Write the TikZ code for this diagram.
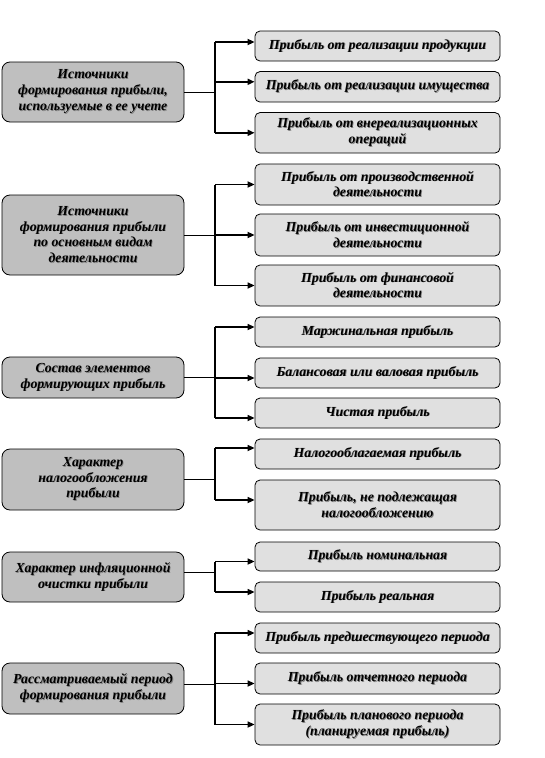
\documentclass[tikz,border=0pt]{standalone}
\usepackage{fontspec}
\setmainfont{Liberation Serif}
\usetikzlibrary{arrows.meta}
\newcommand\sh[1]{\rlap{\hspace{0.8pt}\raisebox{-0.8pt}{\textcolor{black!50}{#1}}}#1}
\tikzset{
  every node/.style={font=\fontsize{13.8}{15.8}\selectfont\bfseries\itshape, align=center, inner sep=0pt},
  leftbox/.style={draw, line width=0.8pt, rounded corners=8pt, fill=black!25, minimum width=182pt},
  rightbox/.style={draw, line width=0.8pt, rounded corners=5pt, fill=black!12, minimum width=245pt},
  feed/.style={line width=0.9pt},
  bus/.style={line width=1.2pt},
  arr/.style={line width=1.6pt, -{Triangle[length=7pt,width=6pt]}},
}
\begin{document}
\begin{tikzpicture}[x=1pt,y=-1pt]
\useasboundingbox (0,0) rectangle (545,758);
\coordinate (bx) at (215,0);

% left boxes
\node[leftbox, minimum height=60pt] (L1) at (93,92) {\sh{Источники}\\\sh{формирования прибыли,}\\\sh{используемые в ее учете}};
\node[leftbox, minimum height=80pt] (L2) at (93,235) {\sh{Источники}\\\sh{формирования прибыли}\\\sh{по основным видам}\\\sh{деятельности}};
\node[leftbox, minimum height=41pt] (L3) at (93,377.5) {\sh{Состав элементов}\\\sh{формирующих прибыль}};
\node[leftbox, minimum height=61pt] (L4) at (93,479.5) {\sh{Характер}\\\sh{налогообложения}\\\sh{прибыли}};
\node[leftbox, minimum height=50pt] (L5) at (93,577) {\sh{Характер инфляционной}\\\sh{очистки прибыли}};
\node[leftbox, minimum height=51pt] (L6) at (93,688.5) {\sh{Рассматриваемый период}\\\sh{формирования прибыли}};

% right boxes
\node[rightbox, minimum height=30pt] (a) at (377.5,46) {\sh{Прибыль от реализации продукции}};
\node[rightbox, minimum height=30.5pt] (b) at (377.5,86.8) {\sh{Прибыль от реализации имущества}};
\node[rightbox, minimum height=40.5pt] (c) at (377.5,132.8) {\sh{Прибыль от внереализационных}\\\sh{операций}};
\node[rightbox, minimum height=41pt] (d) at (377.5,184.5) {\sh{Прибыль от производственной}\\\sh{деятельности}};
\node[rightbox, minimum height=42pt] (e) at (377.5,235) {\sh{Прибыль от инвестиционной}\\\sh{деятельности}};
\node[rightbox, minimum height=41pt] (f) at (377.5,285.5) {\sh{Прибыль от финансовой}\\\sh{деятельности}};
\node[rightbox, minimum height=30pt] (g) at (377.5,332) {\sh{Маржинальная прибыль}};
\node[rightbox, minimum height=30pt] (h) at (377.5,373) {\sh{Балансовая или валовая прибыль}};
\node[rightbox, minimum height=30pt] (i) at (377.5,413) {\sh{Чистая прибыль}};
\node[rightbox, minimum height=30pt] (j) at (377.5,454) {\sh{Налогооблагаемая прибыль}};
\node[rightbox, minimum height=50pt] (k) at (377.5,505) {\sh{Прибыль, не подлежащая}\\\sh{налогообложению}};
\node[rightbox, minimum height=29pt] (l) at (377.5,556.5) {\sh{Прибыль номинальная}};
\node[rightbox, minimum height=30pt] (m) at (377.5,597) {\sh{Прибыль реальная}};
\node[rightbox, minimum height=30pt] (n) at (377.5,638) {\sh{Прибыль предшествующего периода}};
\node[rightbox, minimum height=31pt] (o) at (377.5,678.5) {\sh{Прибыль отчетного периода}};
\node[rightbox, minimum height=41pt] (p) at (377.5,724.5) {\sh{Прибыль планового периода}\\\sh{(планируемая прибыль)}};

% group 1
\draw[feed] (L1.east) -- (L1.east -| bx);
\draw[bus] ([yshift=4pt]a.west -| bx) -- (c.west -| bx);
\draw[arr] ([yshift=4pt]a.west -| bx) -- ([yshift=4pt]a.west);
\draw[arr] ([yshift=5pt]b.west -| bx) -- ([yshift=5pt]b.west);
\draw[arr] (c.west -| bx) -- (c.west);

% group 2
\draw[feed] (L2.east) -- (L2.east -| bx);
\draw[bus] (d.west -| bx) -- (f.west -| bx);
\draw[arr] (d.west -| bx) -- (d.west);
\draw[arr] (e.west -| bx) -- (e.west);
\draw[arr] (f.west -| bx) -- (f.west);

% group 3
\draw[feed] (L3.east) -- (L3.east -| bx);
\draw[bus] ([yshift=5pt]g.west -| bx) -- ([yshift=-5pt]i.west -| bx);
\draw[arr] ([yshift=5pt]g.west -| bx) -- ([yshift=5pt]g.west);
\draw[arr] ([yshift=-5pt]h.west -| bx) -- ([yshift=-5pt]h.west);
\draw[arr] ([yshift=-5pt]i.west -| bx) -- ([yshift=-5pt]i.west);

% group 4
\draw[feed] (L4.east) -- (L4.east -| bx);
\draw[bus] ([yshift=6pt]j.west -| bx) -- ([yshift=5pt]k.west -| bx);
\draw[arr] ([yshift=6pt]j.west -| bx) -- ([yshift=6pt]j.west);
\draw[arr] ([yshift=5pt]k.west -| bx) -- ([yshift=5pt]k.west);

% group 5
\draw[feed] ([yshift=5pt]L5.east) -- ([yshift=5pt]L5.east -| bx);
\draw[bus] ([yshift=-5pt]l.west -| bx) -- ([yshift=5pt]m.west -| bx);
\draw[arr] ([yshift=-5pt]l.west -| bx) -- ([yshift=-5pt]l.west);
\draw[arr] ([yshift=5pt]m.west -| bx) -- ([yshift=5pt]m.west);

% group 6
\draw[feed] ([yshift=4pt]L6.east) -- ([yshift=4pt]L6.east -| bx);
\draw[bus] ([yshift=5pt]n.west -| bx) -- (p.west -| bx);
\draw[arr] ([yshift=5pt]n.west -| bx) -- ([yshift=5pt]n.west);
\draw[arr] ([yshift=-5pt]o.west -| bx) -- ([yshift=-5pt]o.west);
\draw[arr] (p.west -| bx) -- (p.west);
\end{tikzpicture}
\end{document}
